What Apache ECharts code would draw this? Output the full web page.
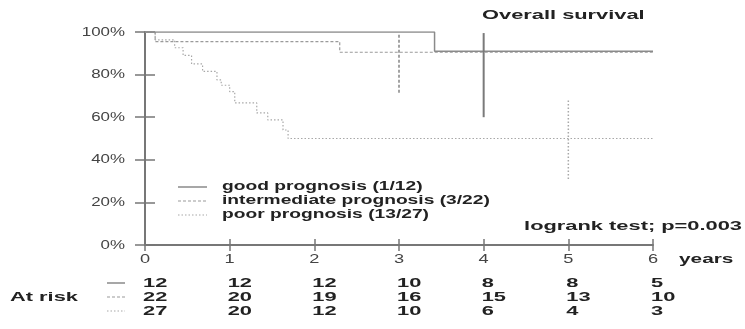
<!DOCTYPE html>
<html>
<head>
<meta charset="utf-8">
<script src="https://cdn.jsdelivr.net/npm/echarts@6/dist/echarts.min.js"></script>
<style>html,body{margin:0;padding:0;background:#fff}#c{width:745px;height:329px}</style>
</head>
<body>
<div id="c"></div>
<script>
// ---- data ----
const years = [0, 1, 2, 3, 4, 5, 6];
const yTicks = [0, 20, 40, 60, 80, 100];
const goodT = [0, 3.42, 6];
const goodS = [100, 91, 91];
const interT = [0, 0.12, 2.3, 6];
const interS = [100, 95.5, 90.5, 90.5];
const poorT = [0, 0.12, 0.35, 0.45, 0.55, 0.68, 0.85, 0.9, 1.0, 1.06, 1.32, 1.45, 1.63, 1.69, 6];
const poorS = [100, 96.3, 92.6, 89, 85, 81.5, 77.5, 75, 72, 66.7, 62, 58.7, 54, 50, 50];
const ciGood = [4, 60, 99.5];
const ciInter = [3, 71.5, 99];
const ciPoor = [5, 31, 68];
const riskGood = [12, 12, 12, 10, 8, 8, 5];
const riskInter = [22, 20, 19, 16, 15, 13, 10];
const riskPoor = [27, 20, 12, 10, 6, 4, 3];
const names = ['good prognosis (1/12)', 'intermediate prognosis (3/22)', 'poor prognosis (13/27)'];

const styles = [
  {color: '#8a8a8a', width: 1.5, type: 'solid'},
  {color: '#9a9a9a', width: 1.2, type: [3, 2]},
  {color: '#a8a8a8', width: 1.2, type: [1.5, 2]}
];
const zip = (a, b) => a.map((v, i) => [v, b[i]]);
const FONT = '"Liberation Sans", Arial, sans-serif';
const BOLD = 'bold 13px ' + FONT;
const SX = 1.68;

const chart = echarts.init(document.getElementById('c'), null, {renderer: 'canvas'});

function ciSeries(ci, st, w) {
  return {
    type: 'line', xAxisIndex: 0, yAxisIndex: 0, symbol: 'none', silent: true,
    data: [[ci[0], ci[1]], [ci[0], ci[2]]],
    lineStyle: {color: st.color, width: w, type: st.type}
  };
}

const tickStyle = {color: '#777', width: 1.5};
chart.setOption({
  animation: false,
  grid: {left: 145, right: 92, top: 32, bottom: 84},
  xAxis: [
    {type: 'value', min: 0, max: 6, interval: 1, position: 'bottom',
      axisLine: {lineStyle: {color: '#777', width: 2}},
      axisTick: {show: true, inside: false, length: 6, lineStyle: tickStyle},
      axisLabel: {show: false}, splitLine: {show: false}},
    {type: 'value', min: 0, max: 6, interval: 1, position: 'bottom',
      axisLine: {show: false},
      axisTick: {show: true, inside: true, length: 6, lineStyle: tickStyle},
      axisLabel: {show: false}, splitLine: {show: false}}
  ],
  yAxis: [
    {type: 'value', min: 0, max: 100, interval: 20, position: 'left',
      axisLine: {show: true, lineStyle: {color: '#777', width: 2}},
      axisTick: {show: true, inside: false, length: 10, lineStyle: tickStyle},
      axisLabel: {show: false}, splitLine: {show: false}},
    {type: 'value', min: 0, max: 100, interval: 20, position: 'left',
      axisLine: {show: false},
      axisTick: {show: true, inside: true, length: 10, lineStyle: tickStyle},
      axisLabel: {show: false}, splitLine: {show: false}}
  ],
  series: [
    {name: names[0], type: 'line', step: 'end', symbol: 'none', data: zip(goodT, goodS),
      lineStyle: styles[0], z: 3},
    {name: names[1], type: 'line', step: 'end', symbol: 'none', data: zip(interT, interS),
      lineStyle: styles[1], z: 2},
    {name: names[2], type: 'line', step: 'end', symbol: 'none', data: zip(poorT, poorS),
      lineStyle: styles[2], z: 2},
    ciSeries(ciGood, {color: '#7a7a7a', type: 'solid'}, 2),
    ciSeries(ciInter, styles[1], 1.8),
    ciSeries(ciPoor, styles[2], 1.5)
  ]
});

// ---- texts (wide lettering) ----
function txt(s, x, y, font, align, sx, fill) {
  return {type: 'text', x: x, y: y, scaleX: sx, z: 10,
    style: {text: s, font: font, fill: fill || '#222', align: align || 'left', verticalAlign: 'middle'}};
}
const g = [];
// axis labels via the axes' scales
years.forEach(v => {
  const x = chart.convertToPixel({xAxisIndex: 0}, v);
  g.push(txt(String(v), x, 259, '13px ' + FONT, 'center', 1.4, '#444'));
});
yTicks.forEach(v => {
  const y = chart.convertToPixel({yAxisIndex: 0}, v);
  g.push(txt(v + '%', 125, y, '13px ' + FONT, 'right', 1.3, '#444'));
});
g.push(txt('Overall survival', 482, 15, BOLD, 'left', SX));
g.push(txt('years', 679, 259, BOLD, 'left', 1.6));
g.push(txt('logrank test; p=0.003', 742, 226, BOLD, 'right', SX));
g.push(txt('At risk', 10, 297, BOLD, 'left', SX));
// legend
const legY = [187, 201, 215];
names.forEach((n, i) => {
  g.push({type: 'line', shape: {x1: 178, y1: legY[i], x2: 207, y2: legY[i]},
    style: {stroke: styles[i].color, lineWidth: styles[i].width, lineDash: i === 0 ? null : styles[i].type}});
  g.push(txt(n, 222, legY[i], 'bold 12px ' + FONT, 'left', 1.6));
});
// at-risk table
const rows = [riskGood, riskInter, riskPoor];
const rowY = [283, 297, 311];
rows.forEach((row, r) => {
  g.push({type: 'line', shape: {x1: 107, y1: rowY[r], x2: 125, y2: rowY[r]},
    style: {stroke: styles[r].color, lineWidth: styles[r].width, lineDash: r === 0 ? null : styles[r].type}});
  row.forEach((v, i) => {
    const x = chart.convertToPixel({xAxisIndex: 0}, years[i]);
    g.push(txt(String(v), x - 2, rowY[r], BOLD, 'left', SX));
  });
});
chart.setOption({graphic: g});
</script>
</body>
</html>
